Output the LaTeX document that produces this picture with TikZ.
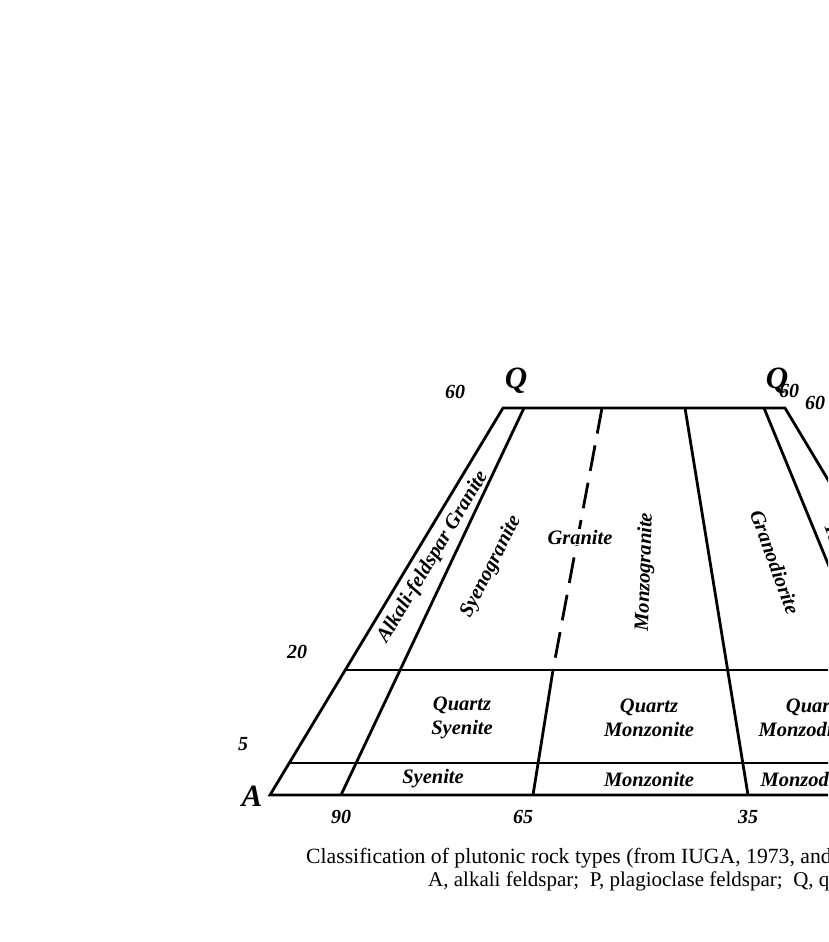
\documentclass[tikz,border=0pt]{standalone}
\usepackage{fontspec}
\setmainfont{Liberation Serif}
\begin{document}
\begin{tikzpicture}[x=1pt,y=-1pt,
  bnd/.style={line width=2.8pt,line cap=butt,line join=miter},
  dashbnd/.style={bnd,dash pattern=on 26pt off 12pt},
  lab/.style={font=\fontsize{20.5}{24}\selectfont\bfseries\itshape,inner sep=1pt,align=center},
  num/.style={font=\fontsize{20}{22}\selectfont\bfseries\itshape,inner sep=0pt},
  apex/.style={font=\fontsize{31}{34}\selectfont\bfseries\itshape,inner sep=0pt},
  capt/.style={inner sep=0pt,anchor=west}]
\useasboundingbox (0,0) rectangle (828,942);
\clip (0,0) rectangle (828,942);
% corner coordinates
\coordinate (QL) at (503,408);
\coordinate (QR) at (785,408);
\coordinate (A)  at (270,795);
\coordinate (PR) at (1017,795);
\coordinate (L20) at (345.3,670);
\coordinate (R20) at (942,670);
\coordinate (L5) at (289.4,763);
\coordinate (R5) at (998,763);
\coordinate (T90) at (524,408);
\coordinate (B90) at (341,795);
\coordinate (T65) at (602,408);
\coordinate (M65) at (553,670);
\coordinate (B65) at (533,795);
\coordinate (T35) at (685,408);
\coordinate (B35) at (748,795);
\coordinate (T10) at (764,408);
\coordinate (B10) at (923,795);
% outline and boundaries
\draw[bnd] (A) -- (QL) -- (QR) -- (PR) -- cycle;
\draw[bnd] (L20) -- (R20);
\draw[bnd] (L5) -- (R5);
\draw[bnd] (T90) -- (B90);
\draw[dashbnd] (T65) -- (M65);
\draw[bnd] (M65) -- (B65);
\draw[bnd] (T35) -- (B35);
\draw[bnd] (T10) -- (B10);
% field names
\node[lab,rotate=59] (afg) at (433,557) {Alkali-feldspar Granite};
\node[lab,rotate=63] (syg) at (491,567) {Syenogranite};
\node[lab,fill=white] (gra) at (580,537) {Granite};
\node[lab,rotate=88] (mzg) at (645,572) {Monzogranite};
\node[lab,rotate=-70] (grd) at (775,562) {Granodiorite};
\node[lab,rotate=-70,anchor=west] (ton) at (830,522) {Tonalite};
\node[lab] (qsy) at (462,718) {Quartz\\Syenite};
\node[lab] (qmz) at (649,718) {Quartz\\Monzonite};
\node[lab] (qmd) at (815,718) {Quartz\\Monzodiorite};
\node[lab] (sye) at (433,779) {Syenite};
\node[lab] (mzn) at (649,779) {Monzonite};
\node[lab] (mzd) at (817,779) {Monzodiorite};
% apex labels
\node[apex] (qlab) at (516,381) {Q};
\node[apex] (qlab2) at (777,381) {Q};
\node[apex] (alab) at (252,796) {A};
% scale numbers
\node[num] (n60a) at (455,392) {60};
\node[num] (n60b) at (789,391) {60};
\node[num] (n60c) at (815,403) {60};
\node[num] (n20) at (297,652) {20};
\node[num] (n5) at (243,744) {5};
\node[num] (n90) at (341,817) {90};
\node[num] (n65) at (523,817) {65};
\node[num] (n35) at (748,817) {35};
% caption
\node[capt,font=\fontsize{21.7}{23}\selectfont] (cap1) at (306,858) {Classification of plutonic rock types (from IUGA, 1973, and};
\node[capt,font=\fontsize{21}{23}\selectfont] (cap2) at (428,881) {A, alkali feldspar;\ \ P, plagioclase feldspar;\ \ Q, q};
\end{tikzpicture}
\end{document}
